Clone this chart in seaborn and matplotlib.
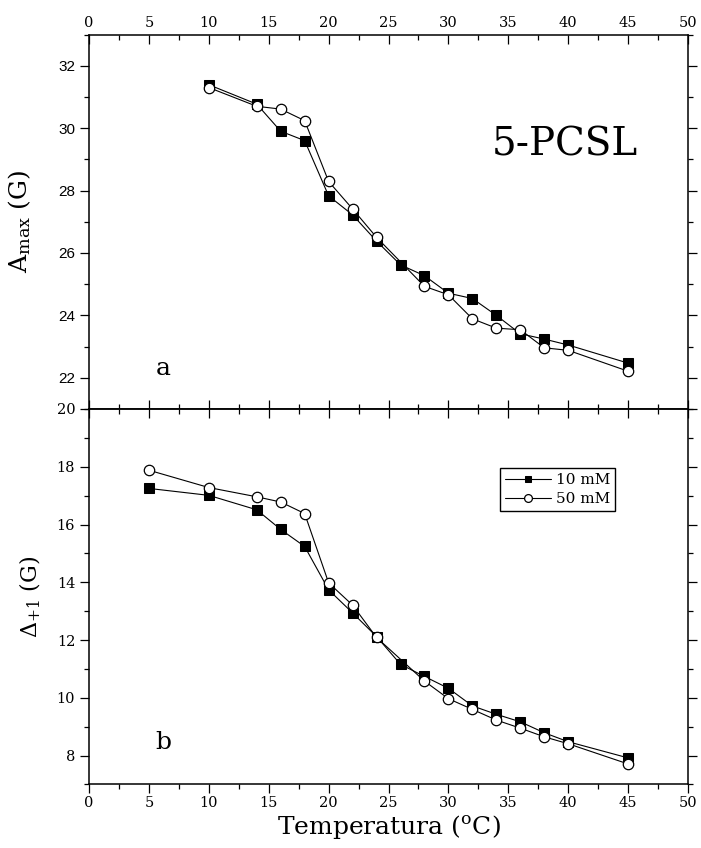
import matplotlib
matplotlib.use("Agg")
import matplotlib.pyplot as plt
import seaborn as sns
import pandas as pd
from matplotlib.ticker import MultipleLocator

sns.set_theme(style="ticks")
plt.rcParams['font.family'] = ['DejaVu Serif']
plt.rcParams['mathtext.fontset'] = 'dejavuserif'
plt.rcParams['text.color'] = 'black'
plt.rcParams['axes.labelcolor'] = 'black'
plt.rcParams['legend.labelcolor'] = 'black'

# Panel a: maximum hyperfine splitting vs temperature
temp_a_10 = [10, 14, 16, 18, 20, 22, 24, 26, 28, 30, 32, 34, 36, 38, 40, 45]
amax_10 = [31.39, 30.77, 29.90, 29.60, 27.83, 27.22, 26.38, 25.62, 25.27, 24.71,
           24.54, 24.00, 23.41, 23.24, 23.05, 22.47]
temp_a_50 = [10, 14, 16, 18, 20, 22, 24, 28, 30, 32, 34, 36, 38, 40, 45]
amax_50 = [31.30, 30.70, 30.61, 30.24, 28.29, 27.41, 26.50, 24.93, 24.66, 23.89,
           23.59, 23.54, 22.96, 22.88, 22.21]

# Panel b: Delta+1 vs temperature
temp_b_10 = [5, 10, 14, 16, 18, 20, 22, 24, 26, 28, 30, 32, 34, 36, 38, 40, 45]
delta_10 = [17.25, 17.01, 16.51, 15.83, 15.24, 13.74, 12.94, 12.12, 11.16, 10.74,
            10.33, 9.72, 9.43, 9.17, 8.79, 8.48, 7.92]
temp_b_50 = [5, 10, 14, 16, 18, 20, 22, 24, 28, 30, 32, 34, 36, 38, 40, 45]
delta_50 = [17.88, 17.28, 16.96, 16.78, 16.38, 13.98, 13.21, 12.09, 10.58, 9.97,
            9.60, 9.23, 8.95, 8.65, 8.41, 7.71]

series_labels = ["10 mM", "50 mM"]
x_ticks = [0, 5, 10, 15, 20, 25, 30, 35, 40, 45, 50]

fig = plt.figure(figsize=(7.01, 8.48), dpi=100)
fig.patch.set_facecolor("white")
ax1 = fig.add_axes([0.127, 0.5177, 0.8545, 0.4416])
ax2 = fig.add_axes([0.127, 0.0749, 0.8545, 0.4428])

sq_kw = dict(color="black", marker="s", markersize=6.5, markerfacecolor="black",
             markeredgecolor="black", linewidth=0.8, legend=False)
ci_kw = dict(color="black", marker="o", markersize=7.5, markerfacecolor="white",
             markeredgecolor="black", markeredgewidth=0.9, linewidth=0.8, legend=False)

df_a10 = pd.DataFrame({"T": temp_a_10, "v": amax_10})
df_a50 = pd.DataFrame({"T": temp_a_50, "v": amax_50})
df_b10 = pd.DataFrame({"T": temp_b_10, "v": delta_10})
df_b50 = pd.DataFrame({"T": temp_b_50, "v": delta_50})

sns.lineplot(data=df_a10, x="T", y="v", ax=ax1, **sq_kw)
sns.lineplot(data=df_a50, x="T", y="v", ax=ax1, **ci_kw)
sns.lineplot(data=df_b10, x="T", y="v", ax=ax2, label=series_labels[0], **sq_kw)
sns.lineplot(data=df_b50, x="T", y="v", ax=ax2, label=series_labels[1], **ci_kw)

for ax in (ax1, ax2):
    ax.set_xlim(0, 50)
    ax.set_xticks(x_ticks)
    ax.xaxis.set_minor_locator(MultipleLocator(2.5))
    ax.yaxis.set_major_locator(MultipleLocator(2))
    ax.yaxis.set_minor_locator(MultipleLocator(1))
    for s in ax.spines.values():
        s.set_visible(True)
        s.set_linewidth(1.1)
        s.set_color("black")
    ax.tick_params(axis="y", which="both", direction="out", left=True, right=True,
                   color="black", width=0.9, labelsize=10.5, labelcolor="black")
    ax.tick_params(axis="y", which="major", length=6.5)
    ax.tick_params(axis="y", which="minor", length=3.5)
    ax.set_xlabel("")
    ax.set_ylabel("")

ax1.set_ylim(21, 33)
ax2.set_ylim(7, 20)

# top panel: labels on top, ticks pointing inward on both edges
ax1.tick_params(axis="x", which="both", direction="in", top=True, bottom=True,
                labeltop=True, labelbottom=False, color="black", width=0.9,
                labelsize=10.5, labelcolor="black", pad=3)
ax1.tick_params(axis="x", which="major", length=6.5)
ax1.tick_params(axis="x", which="minor", length=3.5)
for lab in ax1.get_yticklabels():
    lab.set_fontfamily("Liberation Sans")
    lab.set_fontsize(11)

# bottom panel: ticks outward at bottom, inward at shared edge
ax2.tick_params(axis="x", which="both", direction="out", top=False, bottom=True,
                labeltop=False, labelbottom=True, color="black", width=0.9,
                labelsize=10.5, labelcolor="black", pad=2)
ax2.tick_params(axis="x", which="major", length=6.5)
ax2.tick_params(axis="x", which="minor", length=3.5)
top2 = ax2.secondary_xaxis("top")
top2.set_xticks(x_ticks)
top2.xaxis.set_minor_locator(MultipleLocator(2.5))
top2.tick_params(axis="x", which="both", direction="in", labeltop=False,
                 color="black", width=0.9)
top2.tick_params(axis="x", which="major", length=6.5)
top2.tick_params(axis="x", which="minor", length=3.5)
top2.spines["top"].set_linewidth(1.1)

ax1.set_ylabel(r"A$_{\rm max}$ (G)", fontsize=18, labelpad=18, color="black")
ax2.set_ylabel(r"$\Delta_{+1}$ (G)", fontsize=16, labelpad=10, color="black")
ax2.set_xlabel(r"Temperatura ($^{\rm o}$C)", fontsize=18, labelpad=2, color="black")

ax1.text(39.7, 29.47, "5-PCSL", fontsize=28, ha="center", va="center", color="black")
ax1.text(6.2, 22.3, "a", fontsize=18, ha="center", va="center", color="black")
ax2.text(6.2, 8.47, "b", fontsize=18, ha="center", va="center", color="black")

handles = ax2.get_lines()[:2]
leg = ax2.legend(handles, series_labels, loc="upper left",
                 bbox_to_anchor=(0.686, 0.843), frameon=True, fancybox=False,
                 edgecolor="black", framealpha=1, handlelength=3.0, fontsize=11,
                 borderpad=0.35, labelspacing=0.3, handletextpad=0.3,
                 markerscale=0.75, borderaxespad=0)
leg.get_frame().set_linewidth(1.0)

fig.savefig("out.png", dpi=100, facecolor="white")
